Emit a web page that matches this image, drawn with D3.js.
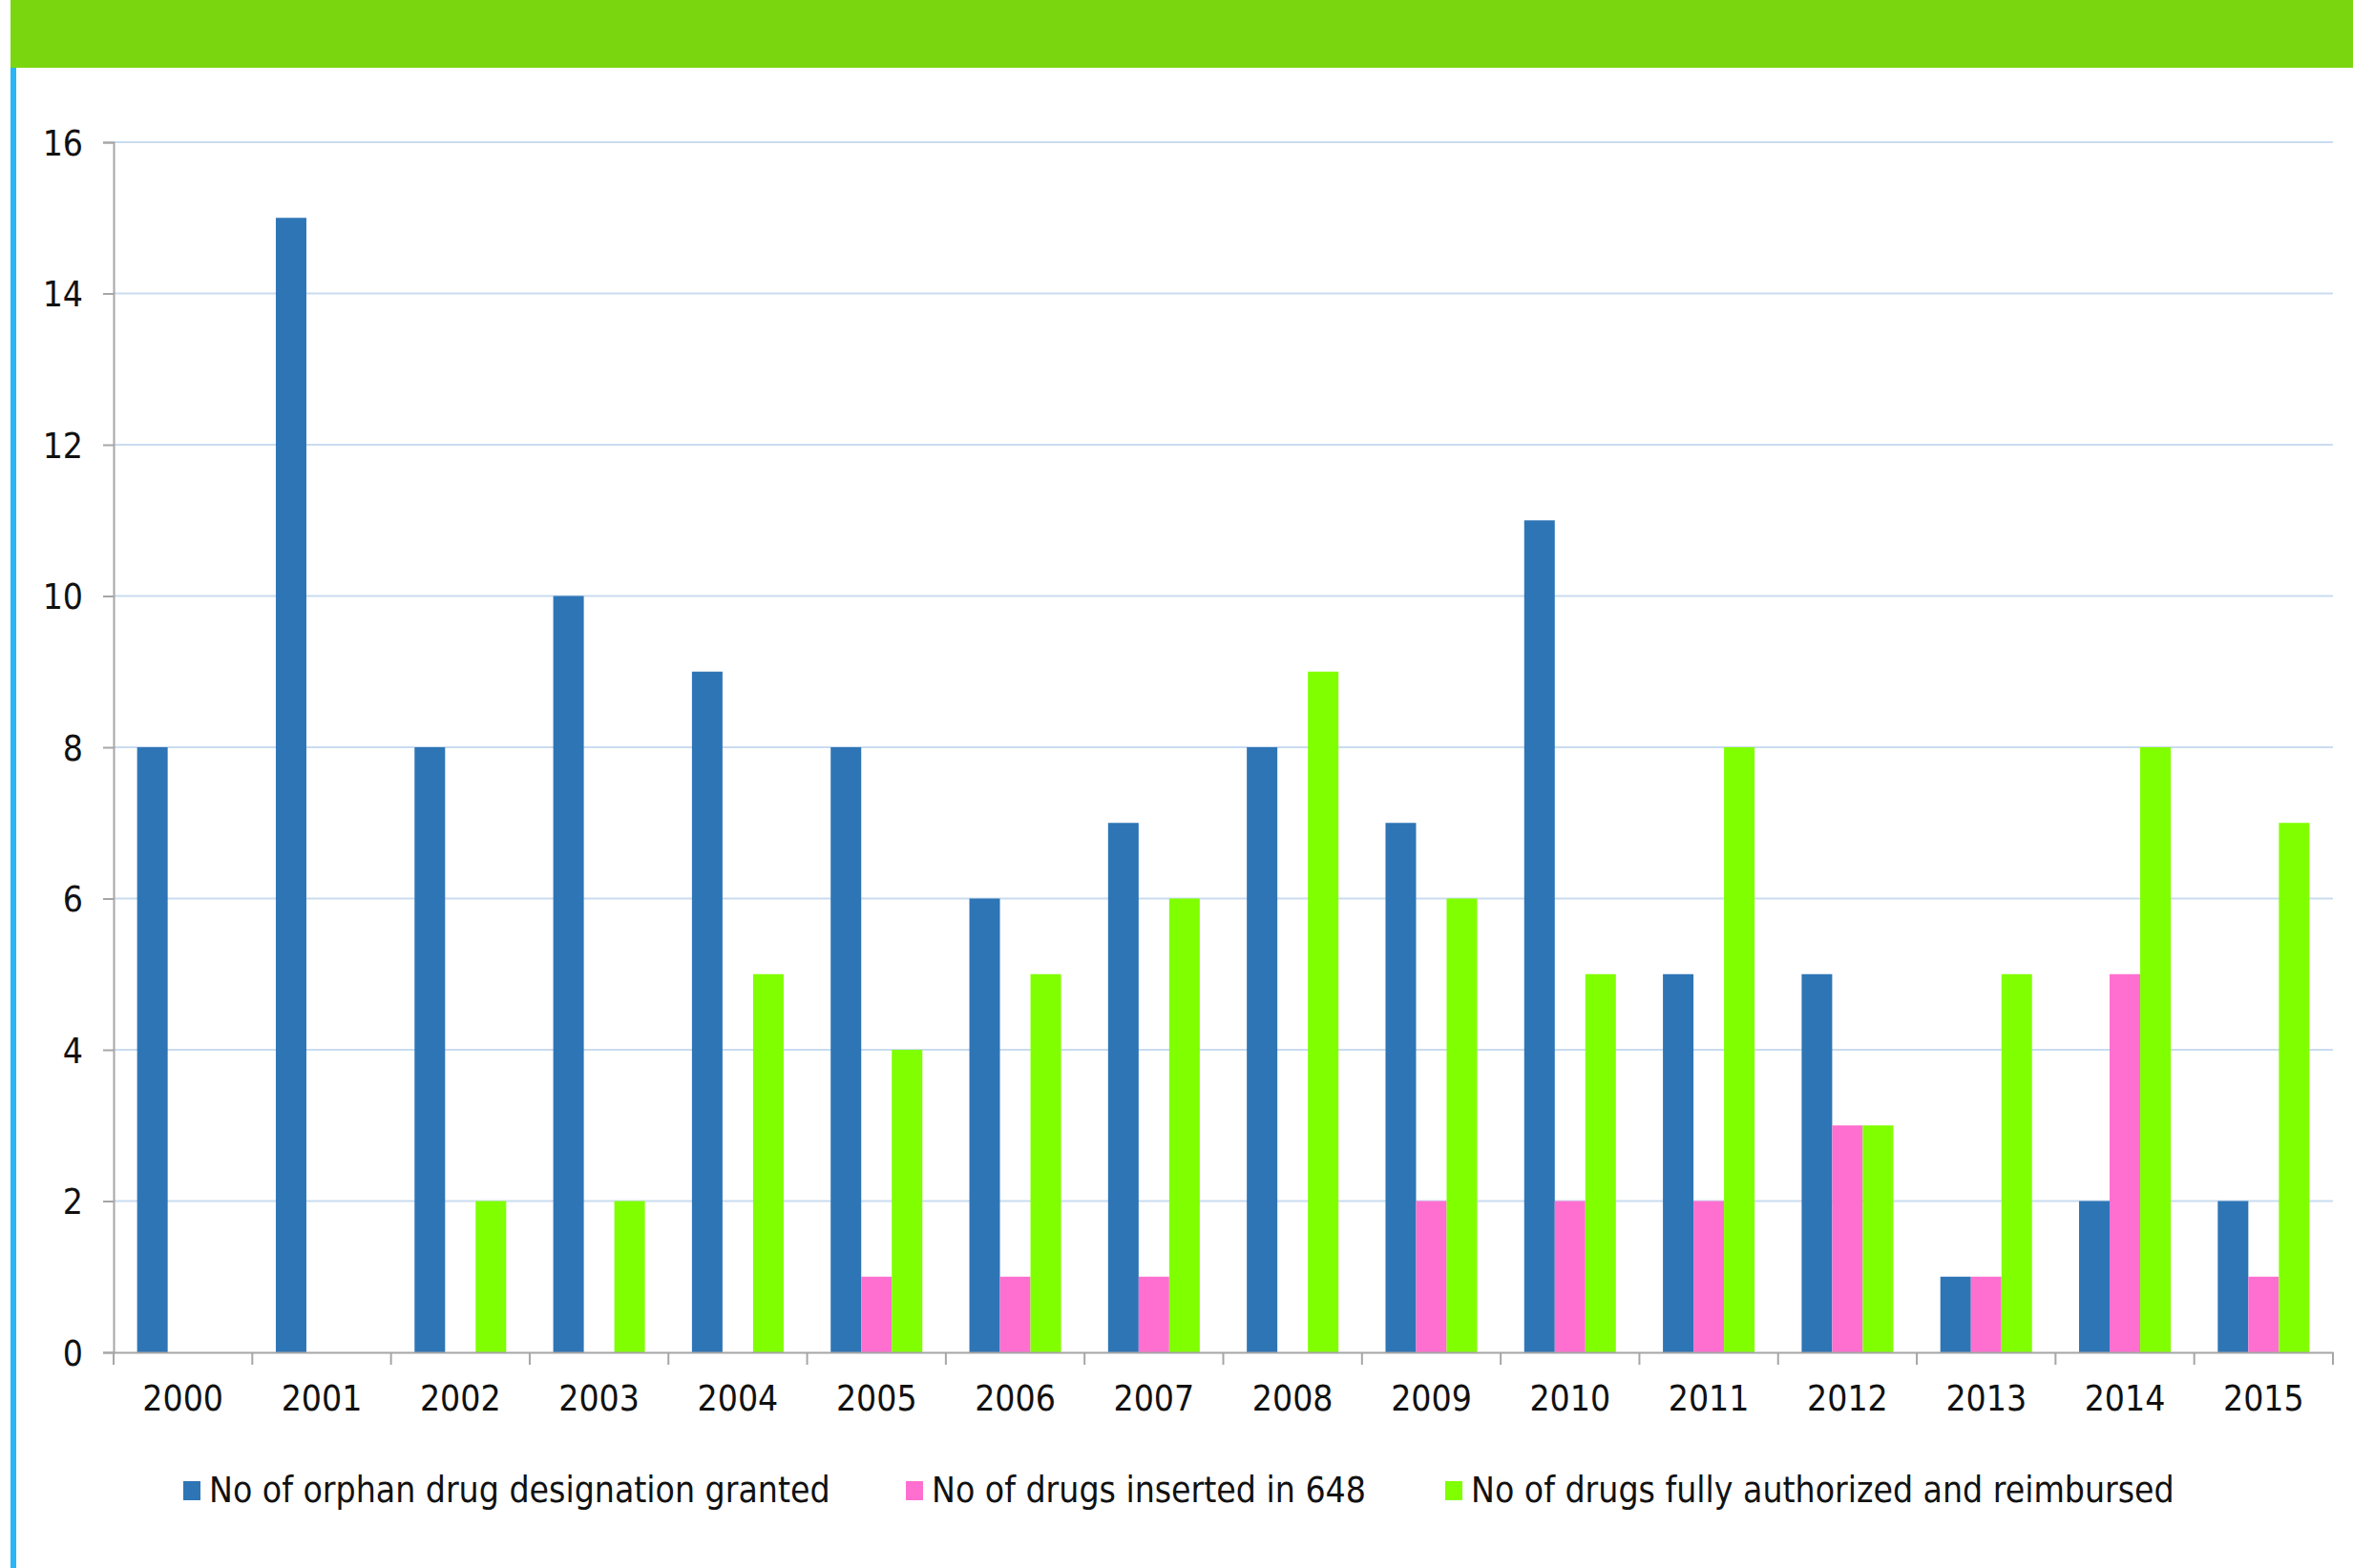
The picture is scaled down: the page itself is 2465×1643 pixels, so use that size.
<!DOCTYPE html>
<html>
<head>
<meta charset="utf-8">
<script src="https://cdn.jsdelivr.net/npm/d3@7"></script>
<style>
  html, body { margin: 0; padding: 0; background: #fff; }
  svg { display: block; }
  text { font-family: "DejaVu Sans Condensed", "DejaVu Sans", sans-serif; font-stretch: condensed; fill: #111; }
</style>
</head>
<body>
<svg id="chart" width="2465" height="1643"></svg>
<script>
const years = ["2000","2001","2002","2003","2004","2005","2006","2007","2008","2009","2010","2011","2012","2013","2014","2015"];
const seriesNames = [
  "No of orphan drug designation granted",
  "No of drugs inserted in 648",
  "No of drugs fully authorized and reimbursed"
];
const orphanDesignations = [8, 15, 8, 10, 9, 8, 6, 7, 8, 7, 11, 5, 5, 1, 2, 2];
const inserted648 = [0, 0, 0, 0, 0, 1, 1, 1, 0, 2, 2, 2, 3, 1, 5, 1];
const fullyReimbursed = [0, 0, 2, 2, 5, 4, 5, 6, 9, 6, 5, 8, 3, 5, 8, 7];
const yTicks = [0, 2, 4, 6, 8, 10, 12, 14, 16];
const colors = ["#2E75B6", "#FF6FD0", "#80FF00"];

const svg = d3.select("#chart");
const W = 2465, H = 1643;

// page frame: green band on top, blue strip on the left
svg.append("rect").attr("x", 11).attr("y", 0).attr("width", W - 11).attr("height", 71).attr("fill", "#7AD70F");
svg.append("rect").attr("x", 11).attr("y", 71).attr("width", 6).attr("height", H - 71).attr("fill", "#29B6F6");

const plot = { left: 119, right: 2444, top: 149, bottom: 1417 };

const x = d3.scaleBand().domain(years).range([plot.left, plot.right]).paddingInner(0).paddingOuter(0);
const xs = d3.scaleBand().domain(d3.range(3)).range([0, x.bandwidth()]).paddingInner(0).paddingOuter(0.77);
const y = d3.scaleLinear().domain([0, 16]).range([plot.bottom, plot.top]);

// grid
svg.append("g").selectAll("line")
  .data(yTicks.filter(d => d > 0))
  .join("line")
  .attr("x1", plot.left).attr("x2", plot.right)
  .attr("y1", d => y(d)).attr("y2", d => y(d))
  .attr("stroke", "#C9DCF0").attr("stroke-width", 2);

// bars
const table = years.map((yr, i) => ({ year: yr, values: [orphanDesignations[i], inserted648[i], fullyReimbursed[i]] }));
const groups = svg.append("g").selectAll("g")
  .data(table)
  .join("g")
  .attr("transform", d => `translate(${x(d.year)},0)`);
groups.selectAll("rect")
  .data(d => d.values.map((v, k) => ({ v, k })).filter(e => e.v > 0))
  .join("rect")
  .attr("x", d => xs(d.k))
  .attr("width", xs.bandwidth())
  .attr("y", d => y(d.v))
  .attr("height", d => y(0) - y(d.v))
  .attr("fill", d => colors[d.k]);

// y axis
const yAxis = svg.append("g")
  .attr("transform", `translate(${plot.left},0)`)
  .call(d3.axisLeft(y).tickValues(yTicks).tickSize(11).tickPadding(21).tickFormat(d3.format("d")));
yAxis.select(".domain").attr("stroke", "#A6A6A6").attr("stroke-width", 2);
yAxis.selectAll(".tick line").attr("stroke", "#A6A6A6").attr("stroke-width", 2);
yAxis.attr("font-family", null).attr("font-size", 37);
yAxis.selectAll(".tick text").attr("fill", "#111").attr("dy", "0.36em");

// x axis
const xAxis = svg.append("g")
  .attr("transform", `translate(0,${plot.bottom})`)
  .call(d3.axisBottom(x).tickSize(0).tickPadding(0));
xAxis.select(".domain").attr("stroke", "#A6A6A6").attr("stroke-width", 2);
xAxis.attr("font-family", null).attr("font-size", 37);
xAxis.selectAll(".tick text").attr("fill", "#111").attr("y", 61).attr("dy", null);
svg.append("g").selectAll("line")
  .data(years.map(d => x(d)).concat([plot.right]))
  .join("line")
  .attr("x1", d => d).attr("x2", d => d)
  .attr("y1", plot.bottom).attr("y2", plot.bottom + 13)
  .attr("stroke", "#A6A6A6").attr("stroke-width", 2);

// legend
const legendX = [192, 949, 1514];
const legend = svg.append("g").selectAll("g")
  .data(seriesNames)
  .join("g")
  .attr("transform", (d, i) => `translate(${legendX[i]},0)`);
legend.append("rect").attr("x", 0).attr("y", 1552).attr("width", 18).attr("height", 20).attr("fill", (d, i) => colors[i]);
legend.append("text").attr("x", 27).attr("y", 1574).attr("font-size", 37).text(d => d);
</script>
</body>
</html>
